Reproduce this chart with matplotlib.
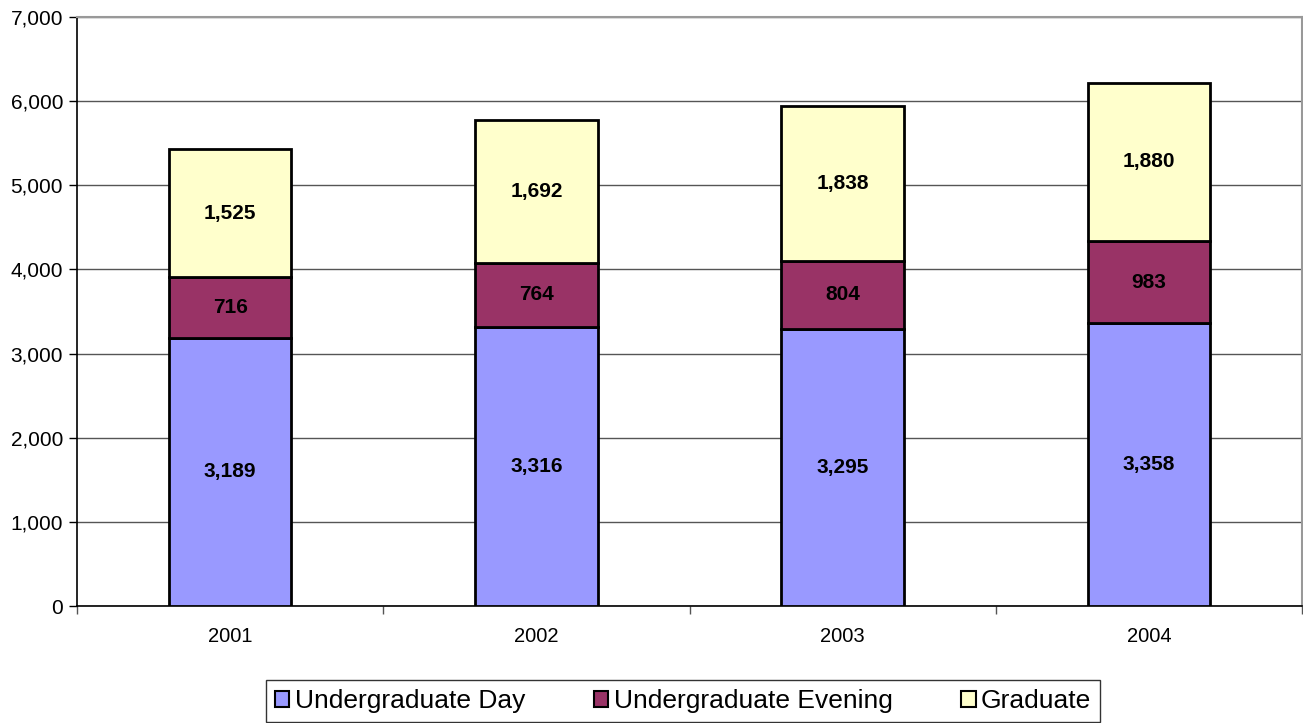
import matplotlib
matplotlib.use("Agg")
import matplotlib.pyplot as plt
from matplotlib.ticker import FuncFormatter, FixedLocator
import numpy as np

plt.rcParams['font.family'] = ['Liberation Sans', 'DejaVu Sans']

years = ["2001", "2002", "2003", "2004"]
ug_day = [3189, 3316, 3295, 3358]
ug_evening = [716, 764, 804, 983]
graduate = [1525, 1692, 1838, 1880]
series_names = ["Undergraduate Day", "Undergraduate Evening", "Graduate"]
colors = ["#9999FF", "#993366", "#FFFFCC"]

fig = plt.figure(figsize=(13.03, 7.23), dpi=100)
ax = fig.add_axes([77/1303, 117/723, 1225/1303, 589/723])

x = np.arange(len(years))
w = 0.4
bottoms = np.zeros(len(years))
handles = []
for vals, name, c in zip([ug_day, ug_evening, graduate], series_names, colors):
    bars = ax.bar(x, vals, w, bottom=bottoms, color=c, edgecolor="black", linewidth=2, label=name, zorder=3)
    handles.append(bars)
    for xi, b, v in zip(x, bottoms, vals):
        ax.text(xi, b + v / 2, f"{v:,}", ha="center", va="center", fontsize=15, fontweight="bold", zorder=4)
    bottoms = bottoms + np.array(vals)

ax.set_xlim(-0.5, len(years) - 0.5)
ax.set_ylim(0, 7000)
ax.set_yticks(np.arange(0, 7001, 1000))
ax.yaxis.set_major_formatter(FuncFormatter(lambda v, p: f"{int(v):,}"))
ax.yaxis.grid(True, color="#555555", linewidth=1, zorder=0)
ax.set_xticks(x)
ax.set_xticklabels(years)
ax.xaxis.set_minor_locator(FixedLocator(np.arange(-0.5, len(years), 1.0)))
ax.tick_params(axis="x", which="major", length=0, pad=15, labelsize=14.5)
ax.tick_params(axis="x", which="minor", length=6, width=1, direction="out", color="#555555")
ax.tick_params(axis="y", length=6, width=1, direction="out", labelsize=15, pad=4)

for s in ["left", "bottom"]:
    ax.spines[s].set_color("black")
    ax.spines[s].set_linewidth(1.2)
for s in ["top", "right"]:
    ax.spines[s].set_color("#999999")
    ax.spines[s].set_linewidth(1.5)

leg = fig.legend(handles=handles, labels=series_names, loc="center", bbox_to_anchor=(683/1303, 1 - 701/723),
                 ncol=3, frameon=True, fancybox=False, edgecolor="black", fontsize=19,
                 handlelength=0.55, handleheight=0.55, handletextpad=0.2, columnspacing=2.6,
                 borderpad=0.35)
leg.get_frame().set_linewidth(1)
for p in leg.get_patches():
    p.set_linewidth(1.5)

fig.savefig("out.png", dpi=100)
